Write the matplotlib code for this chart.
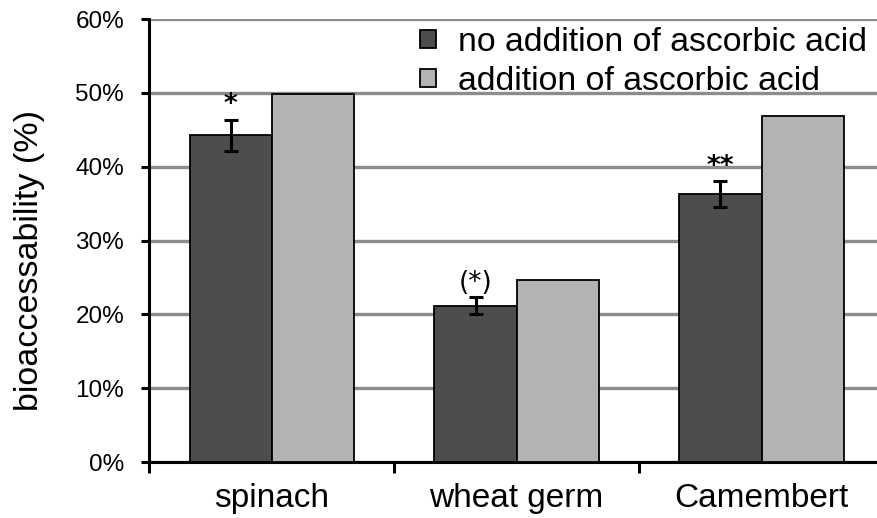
import matplotlib
matplotlib.use("Agg")
import matplotlib.pyplot as plt
import numpy as np
from matplotlib.ticker import PercentFormatter

categories = ["spinach", "wheat germ", "Camembert"]
no_ascorbic = [44.3, 21.2, 36.3]
no_ascorbic_err = [2.1, 1.1, 1.75]
with_ascorbic = [49.8, 24.6, 46.9]
significance = ["*", "(*)", "**"]
series_labels = ["no addition of ascorbic acid", "addition of ascorbic acid"]

plt.rcParams['font.family'] = ['Liberation Sans', 'DejaVu Sans']

fig = plt.figure(figsize=(8.77, 5.18), dpi=100)
ax = fig.add_axes([0.170, 0.108, 0.838, 0.855])

x = np.arange(len(categories))
w = 0.335
dark = "#4d4d4d"
light = "#b3b3b3"

ax.bar(x - w / 2, no_ascorbic, w, color=dark, edgecolor="black", linewidth=1.3,
       label=series_labels[0], zorder=3)
ax.bar(x + w / 2, with_ascorbic, w, color=light, edgecolor="black", linewidth=1.3,
       label=series_labels[1], zorder=3)
ax.errorbar(x - w / 2, no_ascorbic, yerr=no_ascorbic_err, fmt="none", ecolor="black",
            elinewidth=2.2, capsize=5, capthick=2.2, zorder=4)

for xi, v, e, s in zip(x, no_ascorbic, no_ascorbic_err, significance):
    weight = "normal" if s.startswith("(") else "bold"
    ax.annotate(s, xy=(xi - w / 2, v + e), xytext=(0, 1), textcoords="offset points",
                ha="center", va="bottom", fontsize=19, fontweight=weight,
                family=["DejaVu Sans"])

ax.set_ylim(0, 60)
ax.set_xlim(-0.5, 2.5)
ax.set_yticks(np.arange(0, 61, 10))
ax.yaxis.set_major_formatter(PercentFormatter(decimals=0))
ax.yaxis.grid(True, color="#8c8c8c", linewidth=2.4, zorder=0)
ax.set_axisbelow(True)

ax.set_xticks(x)
ax.set_xticklabels(categories, fontsize=24)
ax.set_xticks([-0.5, 0.5, 1.5], minor=True)
ax.tick_params(axis="x", which="major", length=0, pad=15)
ax.tick_params(axis="x", which="minor", length=8, width=2.2, direction="out")
ax.tick_params(axis="y", which="major", length=6, width=2.2, direction="out",
               labelsize=17.5, pad=12)

for side in ["top", "right"]:
    ax.spines[side].set_visible(False)
for side in ["left", "bottom"]:
    ax.spines[side].set_linewidth(2.2)

ax.set_ylabel("bioaccessability (%)", fontsize=24.5)
ax.yaxis.set_label_coords(-0.142, 0.455)

leg = ax.legend(loc="upper right", bbox_to_anchor=(0.99, (518 - 25) / 518),
                bbox_transform=fig.transFigure,
                frameon=False, fontsize=24.3, handlelength=0.45, handleheight=0.45,
                handletextpad=0.65, labelspacing=0.25, borderpad=0.05, borderaxespad=0)

fig.savefig("out.png", dpi=100)
